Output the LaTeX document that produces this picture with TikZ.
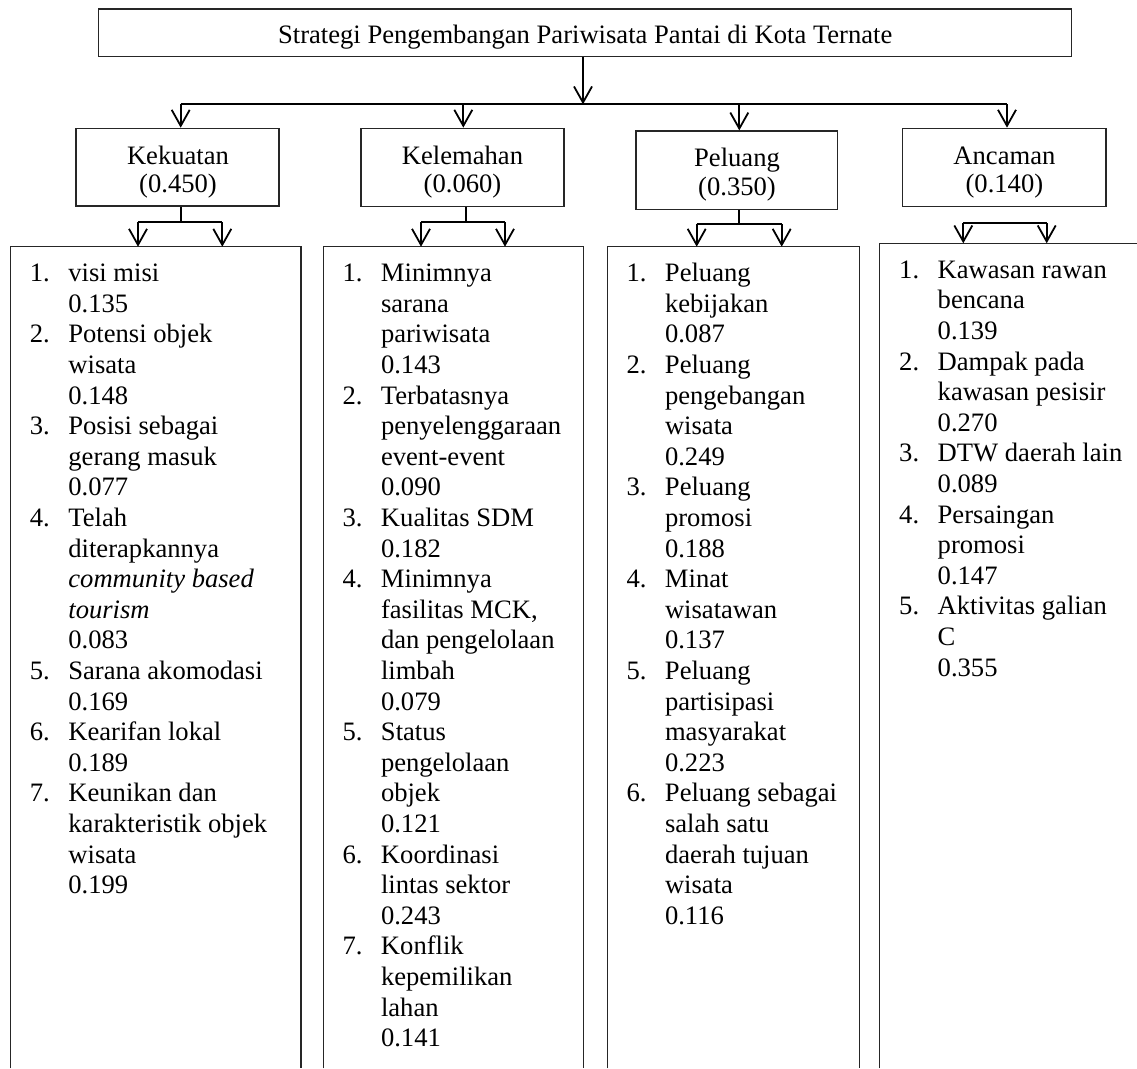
\documentclass[tikz,border=0pt]{standalone}
\usepackage{fontspec}
\setmainfont{Liberation Serif}
\usetikzlibrary{arrows.meta,calc}
\newcommand{\listfnt}{\fontsize{26.6pt}{30.6pt}\selectfont}
\newcommand{\headfnt}{\fontsize{26.6pt}{28.5pt}\selectfont}
\tikzset{
  conn/.style={line width=1.8pt, black},
  arr/.style={conn, -{Straight Barb[length=16pt,width=18pt,line width=1.8pt]}},
  boxline/.style={line width=1.3pt, black!85},
  topbox/.style={draw=black!85, line width=1.3pt, rectangle, inner sep=0pt, font=\listfnt},
  headbox/.style={draw=black!85, line width=1.3pt, rectangle, inner sep=0pt},
  headtext/.style={inner sep=0pt, anchor=base, font=\headfnt},
  listarea/.style={rectangle, inner sep=0pt, anchor=north west},
  listtext/.style={inner sep=0pt, anchor=base west, font=\listfnt},
}
\begin{document}
\begin{tikzpicture}[x=1pt,y=-1pt]
\useasboundingbox (0,0) rectangle (1137,1068);

% title
\node[topbox, minimum width=972.9pt, minimum height=47.7pt, text height=20.8pt, text depth=0pt]
  (title) at (585.2,32.9) {Strategi Pengembangan Pariwisata Pantai di Kota Ternate};

% level 2 boxes
\node[headbox, minimum width=203pt, minimum height=77.7pt] (kek) at (177.5,167.2) {};
\node[headbox, minimum width=203pt, minimum height=78.4pt] (kel) at (462.5,167.5) {};
\node[headbox, minimum width=201.7pt, minimum height=78.3pt] (pel) at (736.9,170.2) {};
\node[headbox, minimum width=203.3pt, minimum height=78.4pt] (anc) at (1004.4,167.5) {};

\node[headtext] (kekT) at (178,164) {\begin{tabular}[t]{@{}c@{}}Kekuatan\\(0.450)\end{tabular}};
\node[headtext] (kelT) at (462.5,164) {\begin{tabular}[t]{@{}c@{}}Kelemahan\\(0.060)\end{tabular}};
\node[headtext] (pelT) at (737,166.7) {\begin{tabular}[t]{@{}c@{}}Peluang\\(0.350)\end{tabular}};
\node[headtext] (ancT) at (1004.4,164) {\begin{tabular}[t]{@{}c@{}}Ancaman\\(0.140)\end{tabular}};

% level 3 areas (open at the bottom)
\node[listarea, minimum width=290pt, minimum height=821.3pt] (s1) at (10.7,246.7) {};
\node[listarea, minimum width=260pt, minimum height=821.3pt] (s2) at (323.3,246.7) {};
\node[listarea, minimum width=252pt, minimum height=821.3pt] (s3) at (607.3,246.7) {};
\node[listarea, minimum width=270pt, minimum height=824.7pt] (s4) at (879.3,243.3) {};

\draw[boxline] (s1.south west) -- (s1.north west) -- (s1.north east) -- (s1.south east);
\draw[boxline] (s2.south west) -- (s2.north west) -- (s2.north east) -- (s2.south east);
\draw[boxline] (s3.south west) -- (s3.north west) -- (s3.north east) -- (s3.south east);
\draw[boxline] (s4.south west) -- (s4.north west) -- (s4.north east);

% junction coordinates
\coordinate (hub)  at (583,104.3);
\coordinate (kekA) at (180.7,104.3);
\coordinate (kelA) at (463.3,104.3);
\coordinate (pelA) at (739.3,104.3);
\coordinate (ancA) at (1007,104.3);

\coordinate (kekJ) at (180.7,222.3);
\coordinate (kekL) at (138,222.3);
\coordinate (kekR) at (222.3,222.3);
\coordinate (kelJ) at (465.7,222.3);
\coordinate (kelL) at (421,222.3);
\coordinate (kelR) at (505,222.3);
\coordinate (pelJ) at (739.3,224.3);
\coordinate (pelL) at (696.7,224.3);
\coordinate (pelR) at (781.7,224.3);
\coordinate (ancL) at (963.3,223.3);
\coordinate (ancR) at (1046.7,223.3);

% connectors level 1 -> 2
\draw[arr] (title.south -| hub) -- (hub);
\draw[conn] (kekA) -- (ancA);
\draw[arr] (kekA) -- (kek.north -| kekA);
\draw[arr] (kelA) -- (kel.north -| kelA);
\draw[arr] (pelA) -- (pel.north -| pelA);
\draw[arr] (ancA) -- (anc.north -| ancA);

% connectors level 2 -> 3
\draw[conn] (kek.south -| kekJ) -- (kekJ);
\draw[conn] (kekL) -- (kekR);
\draw[arr] (kekL) -- (s1.north -| kekL);
\draw[arr] (kekR) -- (s1.north -| kekR);

\draw[conn] (kel.south -| kelJ) -- (kelJ);
\draw[conn] (kelL) -- (kelR);
\draw[arr] (kelL) -- (s2.north -| kelL);
\draw[arr] (kelR) -- (s2.north -| kelR);

\draw[conn] (pel.south -| pelJ) -- (pelJ);
\draw[conn] (pelL) -- (pelR);
\draw[arr] (pelL) -- (s3.north -| pelL);
\draw[arr] (pelR) -- (s3.north -| pelR);

\draw[conn] (ancL) -- (ancR);
\draw[arr] (ancL) -- (s4.north -| ancL);
\draw[arr] (ancR) -- (s4.north -| ancR);

% lists
\node[listtext] (l1) at (29.7,281.7) {\begin{tabular}[t]{@{}p{38.5pt}@{}l@{}}
1. & visi misi\\
   & 0.135\\
2. & Potensi objek\\
   & wisata\\
   & 0.148\\
3. & Posisi sebagai\\
   & gerang masuk\\
   & 0.077\\
4. & Telah\\
   & diterapkannya\\
   & \textit{community based}\\
   & \textit{tourism}\\
   & 0.083\\
5. & Sarana akomodasi\\
   & 0.169\\
6. & Kearifan lokal\\
   & 0.189\\
7. & Keunikan dan\\
   & karakteristik objek\\
   & wisata\\
   & 0.199
\end{tabular}};

\node[listtext] (l2) at (342.3,281.7) {\begin{tabular}[t]{@{}p{38.5pt}@{}l@{}}
1. & Minimnya\\
   & sarana\\
   & pariwisata\\
   & 0.143\\
2. & Terbatasnya\\
   & penyelenggaraan\\
   & event-event\\
   & 0.090\\
3. & Kualitas SDM\\
   & 0.182\\
4. & Minimnya\\
   & fasilitas MCK,\\
   & dan pengelolaan\\
   & limbah\\
   & 0.079\\
5. & Status\\
   & pengelolaan\\
   & objek\\
   & 0.121\\
6. & Koordinasi\\
   & lintas sektor\\
   & 0.243\\
7. & Konflik\\
   & kepemilikan\\
   & lahan\\
   & 0.141
\end{tabular}};

\node[listtext] (l3) at (626.3,281.7) {\begin{tabular}[t]{@{}p{38.5pt}@{}l@{}}
1. & Peluang\\
   & kebijakan\\
   & 0.087\\
2. & Peluang\\
   & pengebangan\\
   & wisata\\
   & 0.249\\
3. & Peluang\\
   & promosi\\
   & 0.188\\
4. & Minat\\
   & wisatawan\\
   & 0.137\\
5. & Peluang\\
   & partisipasi\\
   & masyarakat\\
   & 0.223\\
6. & Peluang sebagai\\
   & salah satu\\
   & daerah tujuan\\
   & wisata\\
   & 0.116
\end{tabular}};

\node[listtext] (l4) at (899,278.3) {\begin{tabular}[t]{@{}p{38.5pt}@{}l@{}}
1. & Kawasan rawan\\
   & bencana\\
   & 0.139\\
2. & Dampak pada\\
   & kawasan pesisir\\
   & 0.270\\
3. & DTW daerah lain\\
   & 0.089\\
4. & Persaingan\\
   & promosi\\
   & 0.147\\
5. & Aktivitas galian\\
   & C\\
   & 0.355
\end{tabular}};
\end{tikzpicture}
\end{document}
